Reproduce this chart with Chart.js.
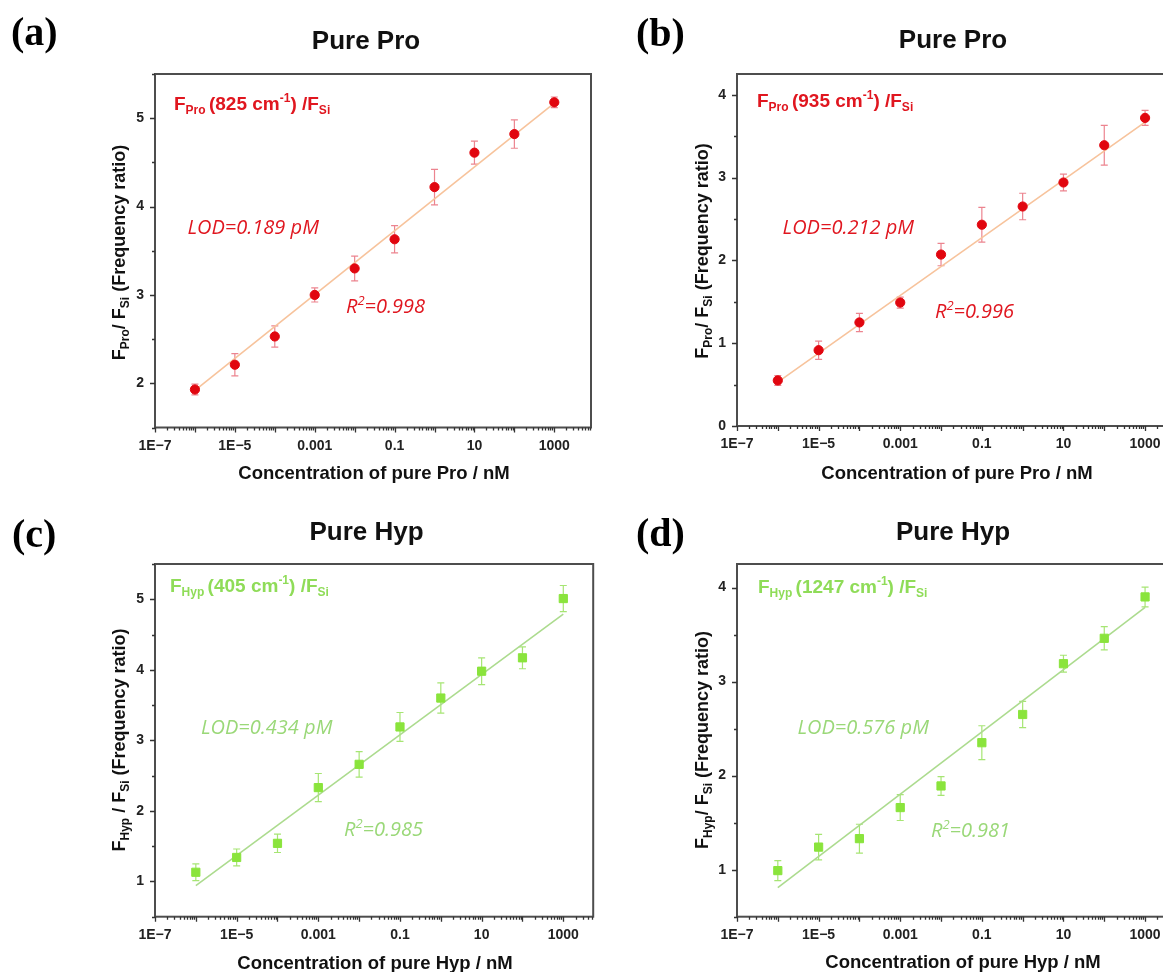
<!DOCTYPE html>
<html><head><meta charset="utf-8">
<script src="https://cdn.jsdelivr.net/npm/chart.js@4.4.1/dist/chart.umd.min.js"></script>
<style>
html,body{margin:0;padding:0;background:#fff;overflow:hidden;width:1163px;height:972px;position:relative;}
.p{position:absolute;}
</style></head><body>
<div class="p" style="left:0px;top:0px;width:600px;height:490px"><canvas id="ca"></canvas></div>
<div class="p" style="left:600px;top:0px;width:600px;height:490px"><canvas id="cb"></canvas></div>
<div class="p" style="left:0px;top:490px;width:600px;height:482px"><canvas id="cc"></canvas></div>
<div class="p" style="left:600px;top:490px;width:600px;height:482px"><canvas id="cd"></canvas></div>
<script>
// ---------- data ----------
const concentrations = [1e-6, 1e-5, 1e-4, 1e-3, 1e-2, 0.1, 1, 10, 100, 1000];
const proA    = [1.93, 2.21, 2.53, 3.00, 3.30, 3.63, 4.22, 4.61, 4.82, 5.18];
const proAErr = [0.06, 0.125, 0.12, 0.08, 0.14, 0.155, 0.20, 0.13, 0.16, 0.06];
const proB    = [0.55, 0.915, 1.25, 1.49, 2.07, 2.43, 2.65, 2.94, 3.39, 3.72];
const proBErr = [0.06, 0.11, 0.11, 0.066, 0.135, 0.21, 0.16, 0.10, 0.24, 0.09];
const hypC    = [1.13, 1.34, 1.54, 2.33, 2.66, 3.19, 3.60, 3.98, 4.17, 5.01];
const hypCErr = [0.12, 0.12, 0.13, 0.20, 0.18, 0.205, 0.215, 0.19, 0.155, 0.185];
const hypD    = [0.99, 1.24, 1.33, 1.66, 1.89, 2.35, 2.65, 3.19, 3.46, 3.90];
const hypDErr = [0.107, 0.135, 0.153, 0.137, 0.10, 0.18, 0.14, 0.09, 0.124, 0.105];
const fitX = [1e-6, 1000];
const fitA = [1.92, 5.17];
const fitB = [0.53, 3.67];
const fitC = [0.94, 4.79];
const fitD = [0.81, 3.79];
const xTickValues = [1e-7, 1e-5, 1e-3, 0.1, 10, 1000];
const xTickLabels = ['1E\u22127', '1E\u22125', '0.001', '0.1', '10', '1000'];
const yTicksA = [2, 3, 4, 5];
const yTicksB = [0, 1, 2, 3, 4];
const yTicksC = [1, 2, 3, 4, 5];
const yTicksD = [1, 2, 3, 4];

// ---------- styles ----------
const RED = '#e1060f', RED_ERR = 'rgba(228,80,95,0.7)', ORANGE = '#f7c39c', RED_TXT = '#e0161f';
const GREEN = '#8ae43c', GREEN_ERR = 'rgba(150,225,90,0.85)', GREEN_LINE = '#acdb8e', GREEN_TXT = '#8fdc58', GREEN_LOD = '#9ad878';
const SANS = '"Liberation Sans", Arial, sans-serif';
const ITAL = '"Open Sans", "Noto Sans", sans-serif';
const SERIF = '"Liberation Serif", "Times New Roman", serif';

function sub(t,s){return {t, size:s||12, dy:4};}
function sup(t,s){return {t, size:s||12, dy:-8};}
function n(t,size){return {t, size:size||19, dy:0};}

const panels = [
  {canvas:'ca', left:0, top:0, width:600, height:490, area:{l:155, t:74, r:591, b:427.5},
   xMax:8300, yMin:1.5, yMax:5.5, yTicks:yTicksA, values:proA, errors:proAErr, fit:fitA,
   shape:'circle', color:RED, errColor:RED_ERR, lineColor:ORANGE, txt:RED_TXT, lodColor:RED_TXT,
   label:'(a)', labelPos:[11,45], title:'Pure Pro', titlePos:[366,48.5],
   ann:[n('F'),sub('Pro '),n('(825 cm'),sup('-1'),n(') /F'),sub('Si')], annPos:[174,110],
   lod:'LOD=0.189 pM', lodPos:[187.5,234], r2:'=0.998', r2Pos:[346,312.5],
   yTitle:[n('F',18),sub('Pro'),n('/ F',18),sub('Si'),n(' (Frequency ratio)',18)], yTitlePos:[125,252.5],
   xTitle:'Concentration of pure Pro / nM', xTitlePos:[374,479]},
  {canvas:'cb', left:600, top:0, width:600, height:490, area:{l:737, t:74, r:1183, b:426},
   xMax:8500, yMin:0, yMax:4.25, yTicks:yTicksB, values:proB, errors:proBErr, fit:fitB,
   shape:'circle', color:RED, errColor:RED_ERR, lineColor:ORANGE, txt:RED_TXT, lodColor:RED_TXT,
   label:'(b)', labelPos:[636,46], title:'Pure Pro', titlePos:[953,48.3],
   ann:[n('F'),sub('Pro '),n('(935 cm'),sup('-1'),n(') /F'),sub('Si')], annPos:[757,107],
   lod:'LOD=0.212 pM', lodPos:[782.6,234.3], r2:'=0.996', r2Pos:[935,318.3],
   yTitle:[n('F',18),sub('Pro'),n('/ F',18),sub('Si'),n(' (Frequency ratio)',18)], yTitlePos:[708,251],
   xTitle:'Concentration of pure Pro / nM', xTitlePos:[957,479]},
  {canvas:'cc', left:0, top:490, width:600, height:482, area:{l:155, t:564, r:594, b:916.7},
   xMax:5400, yMin:0.5, yMax:5.5, yTicks:yTicksC, values:hypC, errors:hypCErr, fit:fitC,
   shape:'rect', color:GREEN, errColor:GREEN_ERR, lineColor:GREEN_LINE, txt:GREEN_TXT, lodColor:GREEN_LOD,
   label:'(c)', labelPos:[12,547], title:'Pure Hyp', titlePos:[366.5,540],
   ann:[n('F'),sub('Hyp '),n('(405 cm'),sup('-1'),n(') /F'),sub('Si')], annPos:[170,592],
   lod:'LOD=0.434 pM', lodPos:[201,734.3], r2:'=0.985', r2Pos:[344,836],
   yTitle:[n('F',18),sub('Hyp'),n(' / F',18),sub('Si'),n(' (Frequency ratio)',18)], yTitlePos:[125,740],
   xTitle:'Concentration of pure Hyp / nM', xTitlePos:[375,969]},
  {canvas:'cd', left:600, top:490, width:600, height:482, area:{l:737, t:564, r:1183, b:916.7},
   xMax:8500, yMin:0.5, yMax:4.25, yTicks:yTicksD, values:hypD, errors:hypDErr, fit:fitD,
   shape:'rect', color:GREEN, errColor:GREEN_ERR, lineColor:GREEN_LINE, txt:GREEN_TXT, lodColor:GREEN_LOD,
   label:'(d)', labelPos:[636,546], title:'Pure Hyp', titlePos:[953,540],
   ann:[n('F'),sub('Hyp '),n('(1247 cm'),sup('-1'),n(') /F'),sub('Si')], annPos:[758,593],
   lod:'LOD=0.576 pM', lodPos:[797.5,734.3], r2:'=0.981', r2Pos:[931,836.5],
   yTitle:[n('F',18),sub('Hyp'),n('/ F',18),sub('Si'),n(' (Frequency ratio)',18)], yTitlePos:[708,740],
   xTitle:'Concentration of pure Hyp / nM', xTitlePos:[963,968]}
];

function richWidth(ctx, segs, style, weight, fam){
  let w=0; for(const s of segs){ctx.font=`${style} ${weight} ${s.size}px ${fam}`; w+=ctx.measureText(s.t).width;} return w;
}
function drawRich(ctx, x, y, segs, style, weight, fam){
  for(const s of segs){ctx.font=`${style} ${weight} ${s.size}px ${fam}`; ctx.fillText(s.t, x, y+s.dy); x+=ctx.measureText(s.t).width;}
}

const decoPlugin = {
  id:'deco',
  beforeDatasetsDraw(chart){
    const P = chart.options.plugins.deco.panel; if(!P) return;
    const ctx = chart.ctx, xs = chart.scales.x, ys = chart.scales.y;
    ctx.save();
    ctx.strokeStyle = P.errColor; ctx.lineWidth = 1.2;
    concentrations.forEach((c,i)=>{
      const x = xs.getPixelForValue(c);
      const y1 = ys.getPixelForValue(P.values[i]+P.errors[i]);
      const y2 = ys.getPixelForValue(P.values[i]-P.errors[i]);
      ctx.beginPath();
      ctx.moveTo(x,y1); ctx.lineTo(x,y2);
      ctx.moveTo(x-3.5,y1); ctx.lineTo(x+3.5,y1);
      ctx.moveTo(x-3.5,y2); ctx.lineTo(x+3.5,y2);
      ctx.stroke();
    });
    ctx.restore();
  },
  afterDraw(chart){
    const P = chart.options.plugins.deco.panel; if(!P) return;
    const ctx = chart.ctx, xs = chart.scales.x, ys = chart.scales.y, a = chart.chartArea;
    const ox = P.left, oy = P.top;
    ctx.save();
    ctx.strokeStyle = '#4d4d4d'; ctx.lineWidth = 2;
    ctx.strokeRect(a.left, a.top, a.right-a.left, a.bottom-a.top);
    ctx.strokeStyle = '#333'; ctx.lineWidth = 1.3;
    ctx.beginPath();
    for(let d=-7; d<=4; d++){
      for(let k=1;k<=9;k++){
        const v = k*Math.pow(10,d);
        if(v < xs.min*0.999 || v > xs.max*1.001) continue;
        const x = Math.round(xs.getPixelForValue(v))+0.5;
        const len = k===1 ? 5 : 3;
        ctx.moveTo(x, a.bottom); ctx.lineTo(x, a.bottom+len);
      }
    }
    for(let v=Math.ceil(P.yMin*2)/2; v<=P.yMax+1e-9; v+=0.5){
      const y = Math.round(ys.getPixelForValue(v))+0.5;
      const len = Math.abs(v-Math.round(v))<1e-9 ? 5 : 3;
      ctx.moveTo(a.left, y); ctx.lineTo(a.left-len, y);
    }
    ctx.stroke();
    ctx.textBaseline = 'alphabetic';
    ctx.fillStyle = '#000'; ctx.textAlign='left';
    ctx.font = `bold 40px ${SERIF}`;
    ctx.fillText(P.label, P.labelPos[0]-ox, P.labelPos[1]-oy);
    ctx.font = `bold 26px ${SANS}`; ctx.textAlign='center'; ctx.fillStyle='#111';
    ctx.fillText(P.title, P.titlePos[0]-ox, P.titlePos[1]-oy);
    ctx.font = `bold 18.5px ${SANS}`;
    ctx.fillText(P.xTitle, P.xTitlePos[0]-ox, P.xTitlePos[1]-oy);
    ctx.textAlign='left';
    const yw = richWidth(ctx, P.yTitle, 'normal', 'bold', SANS);
    ctx.save();
    ctx.translate(P.yTitlePos[0]-ox, P.yTitlePos[1]-oy);
    ctx.rotate(-Math.PI/2);
    drawRich(ctx, -yw/2, 0, P.yTitle, 'normal', 'bold', SANS);
    ctx.restore();
    ctx.fillStyle = P.txt;
    drawRich(ctx, P.annPos[0]-ox, P.annPos[1]-oy, P.ann, 'normal', 'bold', SANS);
    ctx.fillStyle = P.lodColor;
    ctx.font = `italic 400 20px ${ITAL}`;
    ctx.fillText(P.lod, P.lodPos[0]-ox, P.lodPos[1]-oy);
    drawRich(ctx, P.r2Pos[0]-ox, P.r2Pos[1]-oy, [n('R',20),sup('2',13),n(P.r2,20)], 'italic', '400', ITAL);
    ctx.restore();
  }
};
Chart.register(decoPlugin);

panels.forEach(P=>{
  const padTop = P.area.t - P.top;
  const padRight = (P.left + P.width) - P.area.r;
  const yW = P.area.l - P.left;
  const xH = (P.top + P.height) - P.area.b;
  new Chart(document.getElementById(P.canvas), {
    type:'scatter',
    data:{datasets:[
      {data: concentrations.map((c,i)=>({x:c, y:P.values[i]})), pointStyle:P.shape,
       pointRadius: P.shape==='rect'?5.8:4.6, backgroundColor:P.color, borderColor:P.color, borderWidth:1, showLine:false},
      {data: fitX.map((c,i)=>({x:c, y:P.fit[i]})), showLine:true, pointRadius:0, borderColor:P.lineColor, borderWidth:1.6, fill:false}
    ]},
    options:{
      responsive:true, maintainAspectRatio:false, animation:false, devicePixelRatio:1,
      layout:{padding:{top:padTop, right:padRight, left:0, bottom:0}},
      plugins:{legend:{display:false}, tooltip:{enabled:false}, deco:{panel:P}},
      scales:{
        x:{type:'logarithmic', min:1e-7, max:P.xMax,
           grid:{display:false, drawTicks:false}, border:{display:false},
           afterBuildTicks:(s)=>{s.ticks = xTickValues.map(v=>({value:v}));},
           afterFit:(s)=>{s.height = xH;},
           ticks:{autoSkip:false, maxRotation:0, padding:10, color:'#222',
             font:{family:SANS, size:14, weight:'bold'},
             callback:(v,i)=>xTickLabels[i]}},
        y:{min:P.yMin, max:P.yMax,
           grid:{display:false, drawTicks:false}, border:{display:false},
           afterBuildTicks:(s)=>{s.ticks = P.yTicks.map(v=>({value:v}));},
           afterFit:(s)=>{s.width = yW;},
           ticks:{padding:11, color:'#222', font:{family:SANS, size:14, weight:'bold'},
             callback:(v)=>String(v)}}
      }
    }
  });
});
</script>
</body></html>
